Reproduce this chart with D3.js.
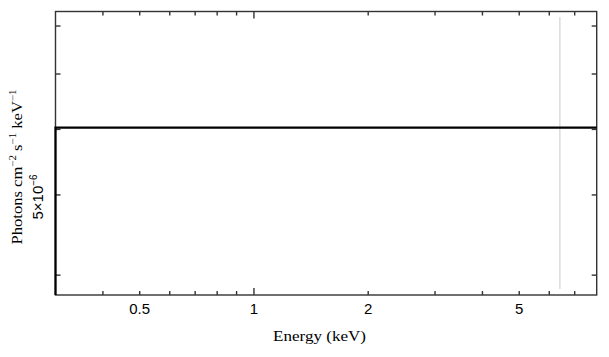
<!DOCTYPE html>
<html>
<head>
<meta charset="utf-8">
<script src="https://cdn.jsdelivr.net/npm/d3@7"></script>
<style>
  body { margin: 0; background: #fff; }
  svg { display: block; }
</style>
</head>
<body>
<svg id="plot"></svg>
<script>
const WIDTH = 609;
const HEIGHT = 357;

// Data
const energies = [0.3, 8];                 // keV, bin edges of the step line
const flux = [6.03e-6, 6.03e-6];           // photons cm^-2 s^-1 keV^-1
const lineEnergy = 6.4;                    // grey marker line
const lineFluxRange = [3.85e-6, 8.2e-6];

const xDomain = [0.3, 8];
const yDomain = [3.785e-6, 8.33e-6];

const xTicks = [0.4, 0.5, 0.6, 0.7, 0.8, 0.9, 1, 2, 3, 4, 5, 6, 7];
const xLabels = [0.5, 1, 2, 5];
const xMajor = [1];
const yTicks = [4e-6, 5e-6, 6e-6, 7e-6, 8e-6];

const margin = { left: 55.5, right: 12.3, top: 11.5, bottom: 62 };

function start() {
    const svg = d3.select('#plot')
        .attr('width', WIDTH)
        .attr('height', HEIGHT);

    const x = d3.scaleLog()
        .domain(xDomain)
        .range([margin.left, WIDTH - margin.right]);
    const y = d3.scaleLog()
        .domain(yDomain)
        .range([HEIGHT - margin.bottom, margin.top]);

    const x0 = x.range()[0], x1 = x.range()[1];
    const y0 = y.range()[0], y1 = y.range()[1];

    // grey marker line
    svg.append('line')
        .attr('x1', x(lineEnergy)).attr('x2', x(lineEnergy))
        .attr('y1', y(lineFluxRange[0])).attr('y2', y(lineFluxRange[1]))
        .attr('stroke', '#c8c8c8')
        .attr('stroke-width', 1);

    // frame
    svg.append('rect')
        .attr('x', x0).attr('y', y1)
        .attr('width', x1 - x0).attr('height', y0 - y1)
        .attr('fill', 'none')
        .attr('stroke', '#333')
        .attr('stroke-width', 1.4);

    // x ticks (bottom and top, pointing inward)
    const tickLen = d => xMajor.includes(d) ? 7 : 4;
    svg.append('g').selectAll('line')
        .data(xTicks).enter().append('line')
            .attr('x1', d => x(d)).attr('x2', d => x(d))
            .attr('y1', y0).attr('y2', d => y0 - tickLen(d))
            .attr('stroke', '#333').attr('stroke-width', 1.4);
    svg.append('g').selectAll('line')
        .data(xTicks).enter().append('line')
            .attr('x1', d => x(d)).attr('x2', d => x(d))
            .attr('y1', y1).attr('y2', d => y1 + tickLen(d))
            .attr('stroke', '#333').attr('stroke-width', 1.4);

    svg.append('g').selectAll('text')
        .data(xLabels).enter().append('text')
            .attr('x', d => x(d))
            .attr('y', y0 + 19)
            .attr('text-anchor', 'middle')
            .attr('font-family', 'Liberation Sans, Arial, sans-serif')
            .attr('font-size', 15)
            .attr('fill', '#000')
            .text(d => d);

    // y ticks (left and right)
    svg.append('g').selectAll('line')
        .data(yTicks).enter().append('line')
            .attr('x1', x0).attr('x2', x0 + 5)
            .attr('y1', d => y(d)).attr('y2', d => y(d))
            .attr('stroke', '#333').attr('stroke-width', 1.4);
    svg.append('g').selectAll('line')
        .data(yTicks).enter().append('line')
            .attr('x1', x1).attr('x2', x1 - 5)
            .attr('y1', d => y(d)).attr('y2', d => y(d))
            .attr('stroke', '#333').attr('stroke-width', 1.4);

    // y tick label 5x10^-6
    const yl = svg.append('text')
        .attr('transform', `translate(${x0 - 12.5}, ${y(5e-6) + 2}) rotate(-90)`)
        .attr('text-anchor', 'middle')
        .attr('font-family', 'Liberation Sans, Arial, sans-serif')
        .attr('font-size', 15)
        .attr('fill', '#000');
    yl.append('tspan').text('5×10');
    yl.append('tspan').attr('font-size', 10).attr('dy', -6).text('−6');

    // data step line, rising from the lower edge
    const pts = [[energies[0], yDomain[0]]].concat(energies.map((e, i) => [e, flux[i]]));
    svg.append('path')
        .datum(pts)
        .attr('fill', 'none')
        .attr('stroke', '#000')
        .attr('stroke-width', 2.2)
        .attr('d', d3.line().x(d => x(d[0])).y(d => y(d[1])).curve(d3.curveStepAfter));

    // axis titles
    svg.append('text')
        .attr('x', 319.5).attr('y', 341)
        .attr('text-anchor', 'middle')
        .attr('font-family', 'Liberation Serif, Times New Roman, serif')
        .attr('font-size', 14.5)
        .attr('fill', '#000')
        .attr('textLength', 93)
        .attr('lengthAdjust', 'spacingAndGlyphs')
        .text('Energy (keV)');

    const yt = svg.append('text')
        .attr('transform', `translate(21.5, 167) rotate(-90)`)
        .attr('text-anchor', 'middle')
        .attr('font-family', 'Liberation Serif, Times New Roman, serif')
        .attr('font-size', 14.5)
        .attr('fill', '#000')
        .attr('textLength', 155)
        .attr('lengthAdjust', 'spacingAndGlyphs');
    yt.append('tspan').text('Photons cm');
    yt.append('tspan').attr('font-size', 9.5).attr('dy', -5.5).text('−2');
    yt.append('tspan').attr('dy', 5.5).text(' s');
    yt.append('tspan').attr('font-size', 9.5).attr('dy', -5.5).text('−1');
    yt.append('tspan').attr('dy', 5.5).text(' keV');
    yt.append('tspan').attr('font-size', 9.5).attr('dy', -5.5).text('−1');
}

window.onload = start;
</script>
</body>
</html>
